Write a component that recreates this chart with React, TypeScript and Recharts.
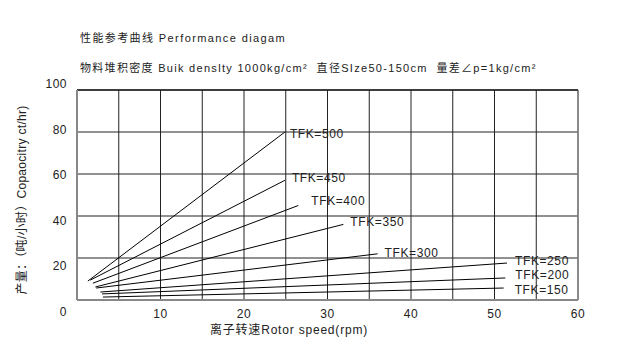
import React from 'react';
import { LineChart, Line, XAxis, YAxis, CartesianGrid, ReferenceLine } from 'recharts';

const seriesNames = ['TFK=500', 'TFK=450', 'TFK=400', 'TFK=350', 'TFK=300', 'TFK=250', 'TFK=200', 'TFK=150'];
const startSpeed = [1.3, 1.6, 1.9, 2.2, 2.3, 2.8, 3.0, 3.1];
const startOutput = [9, 9.5, 8, 6.2, 5.7, 3.8, 2.9, 1.4];
const endSpeed = [24.9, 24.9, 26.5, 31.9, 36.0, 51.5, 51.3, 51.1];
const endOutput = [80, 57, 45, 36, 22, 17.6, 10.5, 5.7];
const labelDx = [5, 7, 13, 7, 7, 8, 10, 11];
const labelDy = [2, -2, -5, -2, -1, -2, -3, 2];

const xTicks = [10, 20, 30, 40, 50, 60];
const yTicks = [0, 20, 40, 60, 80, 100];
const hGrid = [0, 10, 20, 30, 40, 50, 60, 70, 80, 90, 100];
const vGrid = [0, 5, 10, 15, 20, 25, 30, 35, 40, 45, 50, 55, 60];

const title1 = '性能参考曲线 Performance diagam';
const title2 = '物料堆积密度 Buik denslty 1000kg/cm²  直径SIze50-150cm  量差∠p=1kg/cm²';
const yTitle = '产量：（吨/小时）Copaocitry ct/hr)';
const xTitle = '离子转速Rotor speed(rpm)';

const FONT = '"Liberation Sans", Arial, "Noto Sans CJK SC", sans-serif';

const series = seriesNames.map((name, i) => ({
  name,
  data: [
    { x: startSpeed[i], y: startOutput[i] },
    { x: endSpeed[i], y: endOutput[i] },
  ],
}));

const YTick = (props: any) => {
  const { x, y, payload } = props;
  const v = payload.value;
  const off = -6 + (100 - v) * 0.18;
  return (
    <text x={x - 2} y={y + off} textAnchor="end" dominantBaseline="central" fontSize={12} fill="#222" fontFamily={FONT} letterSpacing={0.5}>
      {v}
    </text>
  );
};

const XTick = (props: any) => {
  const { x, y, payload } = props;
  return (
    <text x={x} y={y + 6} textAnchor="middle" dominantBaseline="central" fontSize={12} fill="#222" fontFamily={FONT} letterSpacing={0.5}>
      {payload.value}
    </text>
  );
};

const makeLabel = (i: number) => (props: any) => {
  const { x, y, index } = props;
  if (index !== 1) return null;
  return (
    <text x={x + labelDx[i]} y={y + labelDy[i]} dominantBaseline="central" fontSize={12} fill="#222" fontFamily={FONT} letterSpacing={0.6}>
      {seriesNames[i]}
    </text>
  );
};

export default function App() {
  return (
    <div style={{ position: 'absolute', left: 0, top: 0, width: 617, height: 355, background: '#fff' }}>
      <svg width={617} height={355} style={{ position: 'absolute', left: 0, top: 0, whiteSpace: 'pre' }}>
        <text x={80} y={38} dominantBaseline="central" fontSize={11} fill="#222" fontFamily={FONT} letterSpacing={1.4} style={{ whiteSpace: 'pre' }}>{title1}</text>
        <text x={80} y={68} dominantBaseline="central" fontSize={11} fill="#222" fontFamily={FONT} letterSpacing={1.3} style={{ whiteSpace: 'pre' }}>{title2}</text>
        <text x={289} y={330} textAnchor="middle" dominantBaseline="central" fontSize={12} fill="#222" fontFamily={FONT} letterSpacing={0.8}>{xTitle}</text>
        <text x={22} y={200} textAnchor="middle" dominantBaseline="central" fontSize={12} fill="#222" fontFamily={FONT} letterSpacing={0.3} transform="rotate(-90 22 200)">{yTitle}</text>
      </svg>
      <div style={{ position: 'absolute', left: 0, top: 0 }}>
        <LineChart width={617} height={355} margin={{ top: 90, right: 39, bottom: 25, left: 0 }}>
          <CartesianGrid stroke="#222" strokeWidth={1} horizontalValues={hGrid} verticalValues={vGrid} />
          <XAxis type="number" dataKey="x" domain={[0, 60]} ticks={xTicks} height={30} tick={<XTick />} tickLine={false} axisLine={{ stroke: '#888', strokeWidth: 2 }} allowDataOverflow />
          <YAxis type="number" dataKey="y" domain={[0, 100]} ticks={yTicks} width={77} tick={<YTick />} tickLine={false} axisLine={{ stroke: '#888', strokeWidth: 2 }} allowDataOverflow />
          <ReferenceLine x={60} stroke="#888" strokeWidth={1.5} />
          <ReferenceLine y={100} stroke="#222" strokeWidth={1.5} />
          {series.map((s, i) => (
            <Line key={s.name} data={s.data} dataKey="y" type="linear" stroke="#000" strokeWidth={1} dot={false} isAnimationActive={false} label={makeLabel(i)} />
          ))}
        </LineChart>
      </div>
    </div>
  );
}
